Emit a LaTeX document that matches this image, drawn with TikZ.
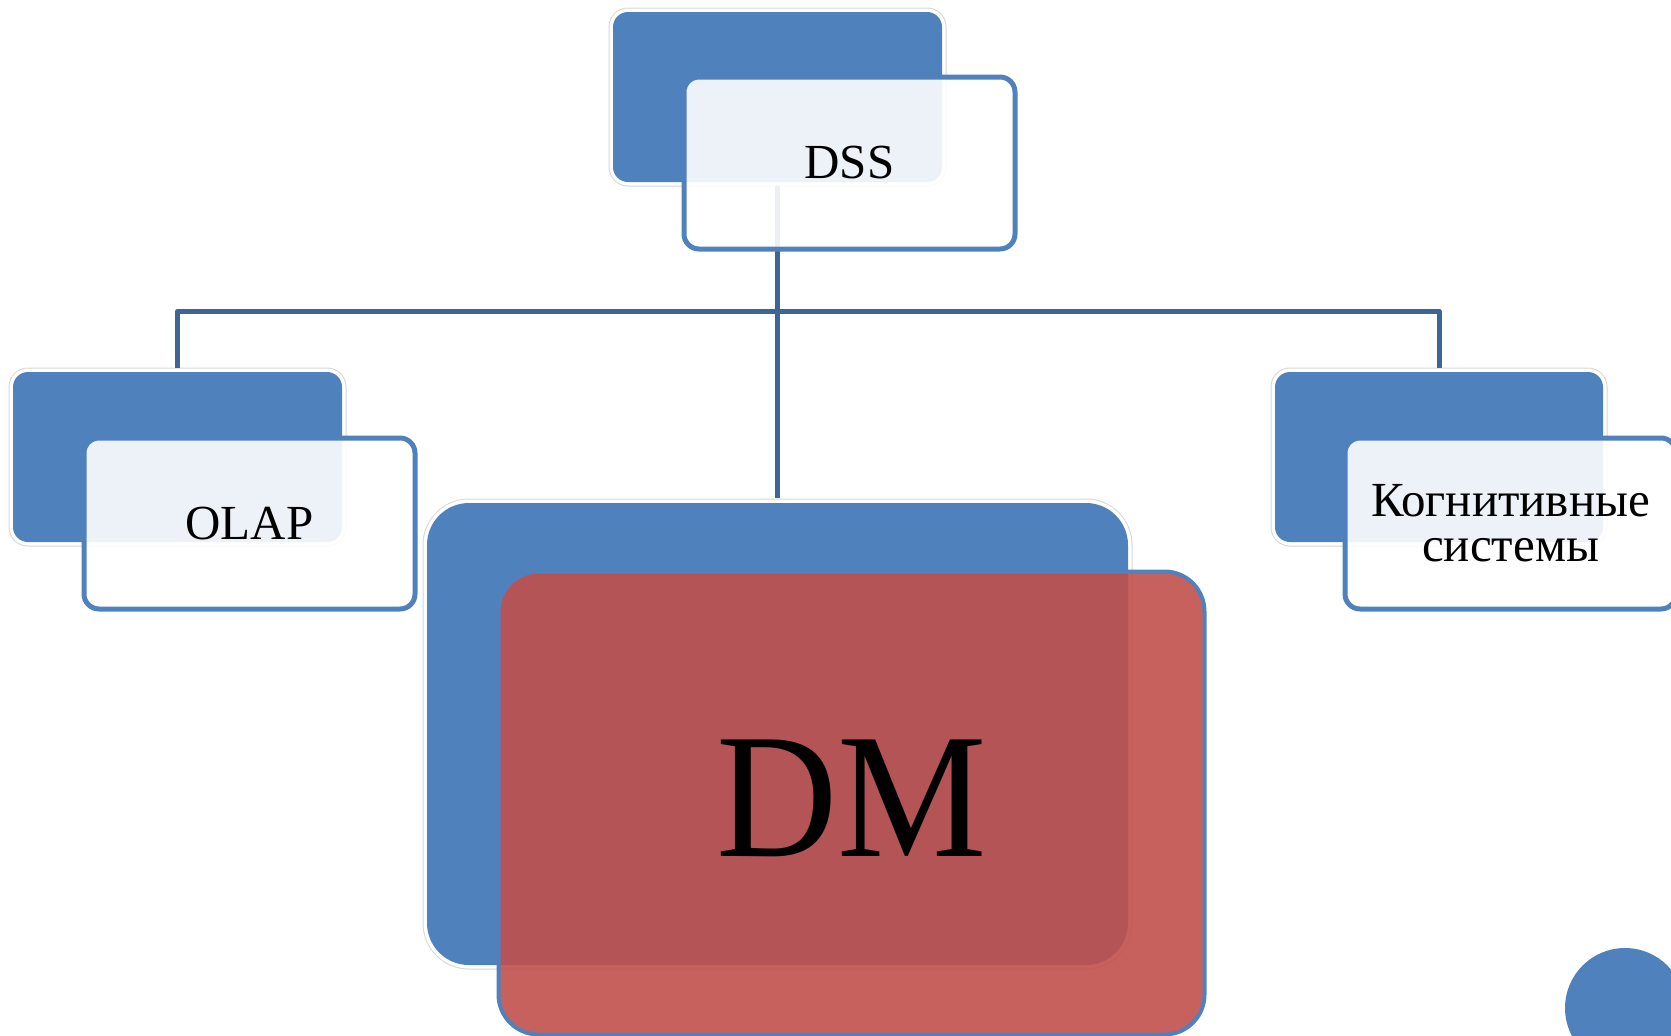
\documentclass[tikz,border=0pt]{standalone}
\usepackage{fontspec}
\setmainfont{Liberation Serif}
\definecolor{accentblue}{HTML}{4F81BD}
\definecolor{linkblue}{RGB}{62,101,152}
\definecolor{accentred}{HTML}{C0504D}
\tikzset{
  backbox/.style={rectangle, rounded corners=15pt, fill=accentblue, inner sep=0pt,
    preaction={draw=black!16, line width=9pt},
    preaction={draw=white, line width=7pt}},
  frontbox/.style={rectangle, rounded corners=15pt, fill=white, fill opacity=0.9,
    text opacity=1, draw=accentblue, line width=5pt, inner sep=0pt,
    font=\fontsize{49}{45}\selectfont, align=center},
  conn/.style={draw=linkblue, line width=5pt, line join=round},
}
\begin{document}
\begin{tikzpicture}[x=1pt, y=-1pt]
  \useasboundingbox (0,0) rectangle (1671,1036);

  % back panels
  \node[backbox, minimum width=329pt, minimum height=170pt] (dssback) at (777.5,97) {};
  \node[backbox, minimum width=329pt, minimum height=170pt] (olapback) at (177.5,457) {};
  \node[backbox, minimum width=328pt, minimum height=170pt] (cogback) at (1439,457) {};
  \node[backbox, rounded corners=42pt, minimum width=701pt, minimum height=462pt] (dmback) at (777.5,734) {};

  % tree connectors
  \path (dssback.south) ++(0,129) coordinate (hub);
  \draw[conn, shorten <=4pt, shorten >=5pt] (dssback.south) -- (dmback.north);
  \draw[conn, shorten >=4pt] (hub) -| (olapback.north);
  \draw[conn, shorten >=4pt] (hub) -| (cogback.north);

  % front panels with labels
  \node[frontbox, minimum width=331pt, minimum height=172pt] (dss) at (849.5,163) {DSS};
  \node[frontbox, minimum width=331pt, minimum height=171pt] (olap) at (249.5,523.5) {OLAP};
  \node[frontbox, minimum width=331pt, minimum height=171pt] (cog) at (1510.5,523.5) {Когнитивные\\системы};
  \node[rectangle, rounded corners=40pt, fill=accentred, fill opacity=0.9, text opacity=1,
        draw=accentblue, line width=4pt, inner sep=0pt,
        minimum width=706pt, minimum height=463pt,
        font=\fontsize{168}{168}\selectfont] (dm) at (851.5,803) {\raisebox{10pt}{\scalebox{1}[1.06]{DM}}};

  % corner marker
  \node[circle, fill=accentblue, minimum size=120pt, inner sep=0pt] (dot) at (1625,1008) {};
\end{tikzpicture}
\end{document}
